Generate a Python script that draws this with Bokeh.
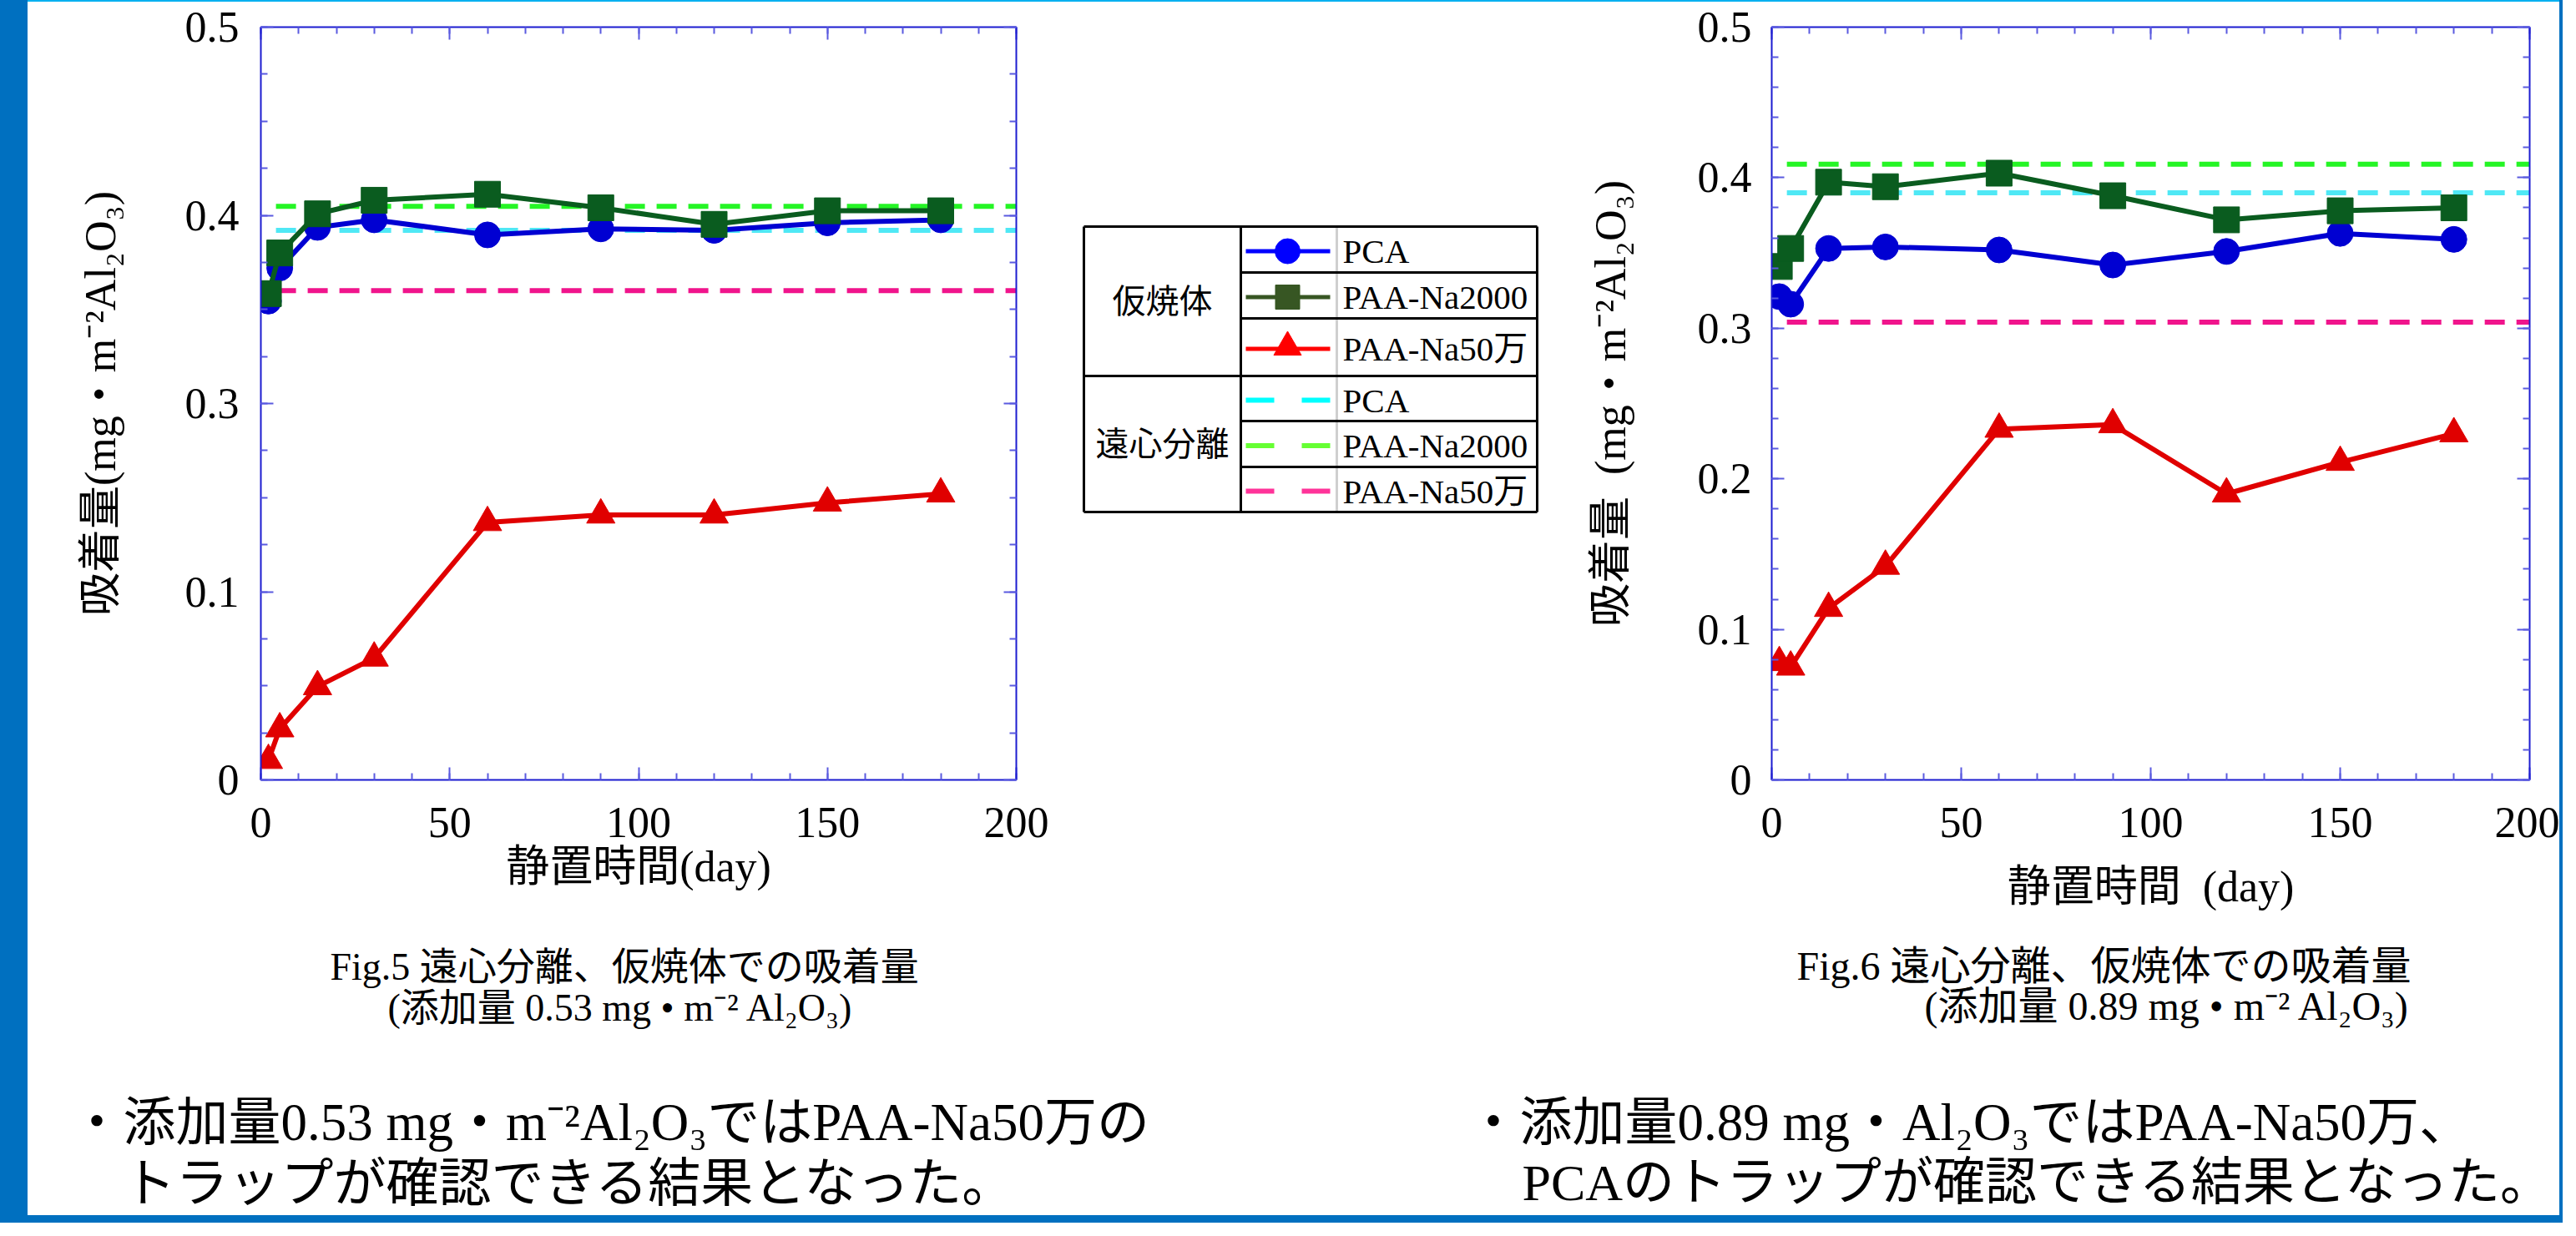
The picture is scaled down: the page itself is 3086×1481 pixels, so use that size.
from bokeh.plotting import figure
from bokeh.models import Range1d, LinearAxis, SingleIntervalTicker, Label, Div
from bokeh.layouts import row, column
from bokeh.embed import file_html
from bokeh.resources import INLINE

# ---------------- data ----------------
DAYS = [2, 5, 15, 30, 60, 90, 120, 150, 180]
CF_DAYS = [4, 200]          # extent of the centrifuge reference lines

# Fig.5 (0.53 mg/m2)  -- y values on the chart's linear 0-0.5 scale
F5_PCA = [0.318, 0.340, 0.367, 0.372, 0.362, 0.366, 0.365, 0.370, 0.372]
F5_PAA2000 = [0.323, 0.350, 0.376, 0.385, 0.389, 0.380, 0.369, 0.378, 0.378]
F5_PAA50 = [0.013, 0.034, 0.062, 0.081, 0.171, 0.176, 0.176, 0.184, 0.190]
F5_CF = [0.365, 0.381, 0.325]   # PCA, PAA-Na2000, PAA-Na50万 (遠心分離)
F5_YTICK_LABELS = {0: "0", 0.125: "0.1", 0.25: "0.3", 0.375: "0.4", 0.5: "0.5"}

# Fig.6 (0.89 mg/m2)
F6_PCA = [0.321, 0.316, 0.353, 0.354, 0.352, 0.342, 0.351, 0.363, 0.359]
F6_PAA2000 = [0.341, 0.353, 0.397, 0.394, 0.403, 0.388, 0.372, 0.378, 0.380]
F6_PAA50 = [0.078, 0.075, 0.114, 0.142, 0.233, 0.236, 0.190, 0.211, 0.230]
F6_CF = [0.390, 0.409, 0.304]

SERIES_NAMES = ["PCA", "PAA-Na2000", "PAA-Na50万"]
GROUP_NAMES = ["仮焼体", "遠心分離"]

Y5_LABEL = "吸着量(mg・m⁻²Al₂O₃)"
Y6_LABEL = "吸着量\u2002(mg・m⁻²Al₂O₃)"
X5_LABEL = "静置時間(day)"
X6_LABEL = "静置時間\u2002(day)"

C5_L1 = "Fig.5 遠心分離、仮焼体での吸着量"
C5_L2 = "(添加量 0.53 mg • m⁻² Al₂O₃)"
C6_L1 = "Fig.6 遠心分離、仮焼体での吸着量"
C6_L2 = "(添加量 0.89 mg • m⁻² Al₂O₃)"
B5_L1 = "・添加量0.53 mg・m⁻²Al₂O₃ではPAA-Na50万の"
B5_L2 = "トラップが確認できる結果となった。"
B6_L1 = "・添加量0.89 mg・Al₂O₃ではPAA-Na50万、"
B6_L2 = "PCAのトラップが確認できる結果となった。"

# ---------------- styles ----------------
FONT = "'Liberation Serif', 'Noto Sans CJK JP', serif"
AXIS_BLUE = "#1c1cd0"
TICK_BLUE = "#5a5ae0"
C_PCA, C_P2000, C_P50 = "#0000d2", "#0a5c1f", "#e00000"
C_CF = ["#4fe8f5", "#25f525", "#f0148c"]
L_PCA, L_P2000, L_P50 = "#0000ff", "#375623", "#ff0000"
L_CF = ["#00ffff", "#66ff33", "#ff3399"]
BAND_BLUE = "#0070c0"
STRIPE_CYAN = "#00b0f0"

TOP_H = 1110
B_TOP = 30
B_BOTTOM = 178


def style_axis(ax, labels=True, standoff=20):
    ax.axis_line_color = AXIS_BLUE
    ax.axis_line_width = 2
    ax.major_tick_line_color = TICK_BLUE
    ax.minor_tick_line_color = TICK_BLUE
    ax.major_tick_line_width = 2
    ax.minor_tick_line_width = 2
    ax.major_tick_in = 15
    ax.major_tick_out = 0
    ax.minor_tick_in = 8
    ax.minor_tick_out = 0
    if labels:
        ax.major_label_text_font = "Liberation Serif"
        ax.major_label_text_font_size = "52px"
        ax.major_label_text_color = "black"
        ax.major_label_standoff = standoff
    else:
        ax.major_label_text_font_size = "0px"
        ax.major_label_text_alpha = 0
        ax.major_label_standoff = 0


def make_chart(width, bl, br, y_interval, y_minor, y_overrides,
               xlabel, ylabel, x_std, y_lab_std, y_tick_std,
               pca, p2000, p50, cf):
    p = figure(width=width, height=TOP_H, x_range=Range1d(0, 200),
               y_range=Range1d(0, 0.5), output_backend="svg",
               toolbar_location=None, min_border_left=bl, min_border_right=br,
               min_border_top=B_TOP, min_border_bottom=B_BOTTOM)
    p.grid.visible = False
    p.outline_line_color = None
    p.background_fill_color = "white"
    p.border_fill_color = "white"

    p.xaxis.ticker = SingleIntervalTicker(interval=50, num_minor_ticks=5)
    p.yaxis.ticker = SingleIntervalTicker(interval=y_interval, num_minor_ticks=y_minor)
    xa = p.xaxis[0]
    ya = p.yaxis[0]
    style_axis(xa, True, 33)
    style_axis(ya, True, y_tick_std)
    if y_overrides:
        ya.major_label_overrides = y_overrides
    xa.axis_label = xlabel
    ya.axis_label = ylabel
    for ax, std in ((xa, x_std), (ya, y_lab_std)):
        ax.axis_label_text_font = FONT
        ax.axis_label_text_font_size = "52px"
        ax.axis_label_text_font_style = "normal"
        ax.axis_label_text_color = "black"
        ax.axis_label_standoff = std

    top = LinearAxis(ticker=SingleIntervalTicker(interval=50, num_minor_ticks=5))
    right = LinearAxis(ticker=SingleIntervalTicker(interval=y_interval, num_minor_ticks=y_minor))
    style_axis(top, False)
    style_axis(right, False)
    p.add_layout(top, "above")
    p.add_layout(right, "right")

    # centrifuge reference lines (dashed)
    for val, col in zip(cf, C_CF):
        p.line(CF_DAYS, [val, val], line_color=col, line_width=6,
               line_dash="24 14")

    # calcined series
    p.line(DAYS, pca, line_color=C_PCA, line_width=6)
    p.scatter(DAYS, pca, marker="circle", size=31, color=C_PCA)
    p.line(DAYS, p2000, line_color=C_P2000, line_width=6)
    p.scatter(DAYS, p2000, marker="square", size=31, color=C_P2000)
    p.line(DAYS, p50, line_color=C_P50, line_width=6)
    p.scatter(DAYS, p50, marker="triangle", size=34, color=C_P50)
    return p


# page-pixel layout: left band 33, column 3033, right line 4  (total 3070)
p5 = make_chart(1239, 279, 55, 0.125, 4, F5_YTICK_LABELS,
                X5_LABEL, Y5_LABEL, 4, 70, 26, F5_PCA, F5_PAA2000, F5_PAA50, F5_CF)
p6 = make_chart(1174, 230, 36, 0.1, 5, None,
                X6_LABEL, Y6_LABEL, 28, 73, 24, F6_PCA, F6_PAA2000, F6_PAA50, F6_CF)

# ---------------- legend table (middle figure, page coordinates) ----------------
FR_TOP = 10 + B_TOP
FR_BOT = 10 + TOP_H - B_BOTTOM
pm = figure(width=620, height=TOP_H, x_range=Range1d(1280, 1900),
            y_range=Range1d(FR_BOT, FR_TOP), output_backend="svg",
            toolbar_location=None, x_axis_location=None, y_axis_location=None,
            min_border_left=0, min_border_right=0,
            min_border_top=B_TOP, min_border_bottom=B_BOTTOM)
pm.grid.visible = False
pm.outline_line_color = None

BX0, BX1, BXC, BXS = 1306, 1849, 1494, 1609
ROWS = [279, 334, 389, 458, 512, 567, 621]
hx0 = [BX0, BXC, BXC, BX0, BXC, BXC, BX0, BX0, BXC, BX1]
hy0 = [ROWS[0], ROWS[1], ROWS[2], ROWS[3], ROWS[4], ROWS[5], ROWS[6], ROWS[0], ROWS[0], ROWS[0]]
hx1 = [BX1, BX1, BX1, BX1, BX1, BX1, BX1, BX0, BXC, BX1]
hy1 = [ROWS[0], ROWS[1], ROWS[2], ROWS[3], ROWS[4], ROWS[5], ROWS[6], ROWS[6], ROWS[6], ROWS[6]]
pm.segment(x0=[BXS], y0=[ROWS[0]], x1=[BXS], y1=[ROWS[6]], line_color="#cfcfcf", line_width=3)
pm.segment(x0=hx0, y0=hy0, x1=hx1, y1=hy1, line_color="black", line_width=3)

centers = [(ROWS[i] + ROWS[i + 1]) / 2 + 2 for i in range(6)]
SX0, SX1, SXM = BXC + 6, BXS - 8, BXC + 56
solid_cols = [L_PCA, L_P2000, L_P50]
markers = [("circle", 30), ("square", 29), ("triangle", 33)]
for i in range(3):
    cy = centers[i]
    pm.line([SX0, SX1], [cy, cy], line_color=solid_cols[i], line_width=5)
    pm.scatter([SXM], [cy - (2 if i == 2 else 0)], marker=markers[i][0],
               size=markers[i][1], color=solid_cols[i])
for i in range(3):
    cy = centers[3 + i]
    pm.line([SX0, SX1], [cy, cy], line_color=L_CF[i], line_width=6,
            line_dash="34 33")
for i, name in enumerate(SERIES_NAMES * 2):
    pm.add_layout(Label(x=BXS + 7, y=centers[i], text=name, text_font=FONT,
                        text_font_size="41px", text_baseline="middle",
                        text_align="left", text_color="black"))
for g, name in enumerate(GROUP_NAMES):
    cy = (ROWS[3 * g] + ROWS[3 * g + 3]) / 2
    pm.add_layout(Label(x=(BX0 + BXC) / 2, y=cy, text=name, text_font=FONT,
                        text_font_size="40px", text_baseline="middle",
                        text_align="center", text_color="black"))

# ---------------- captions and bullets (bottom figure, page coordinates) ----------------
PB_TOP = 10 + TOP_H
PB_H = 1464 - PB_TOP
pb = figure(width=3033, height=PB_H, x_range=Range1d(41, 3074),
            y_range=Range1d(1464, PB_TOP), output_backend="svg",
            toolbar_location=None, x_axis_location=None, y_axis_location=None,
            min_border=0)
pb.grid.visible = False
pb.outline_line_color = None

texts = [
    (C5_L1, 403, 1166, "46px"), (C5_L2, 472, 1215, "46px"),
    (C6_L1, 2160, 1165, "48px"), (C6_L2, 2313, 1213, "48px"),
    (B5_L1, 92, 1352, "63px"), (B5_L2, 155, 1425, "63px"),
    (B6_L1, 1765, 1352, "63px"), (B6_L2, 1831, 1424, "62px"),
]
for t, x, y, fs in texts:
    pb.add_layout(Label(x=x, y=y, text=t, text_font=FONT, text_font_size=fs,
                        text_baseline="alphabetic", text_align="left",
                        text_color="black"))

# ---------------- page decoration ----------------
def band(w, h, color):
    return Div(width=w, height=h, margin=(0, 0, 0, 0),
               styles={"background-color": color})

layout = row(
    band(33, 1465, BAND_BLUE),
    column(
        band(3033, 2, STRIPE_CYAN),
        row(p5, pm, p6, spacing=0),
        pb,
        band(3033, 9, BAND_BLUE),
        spacing=0,
    ),
    band(4, 1465, BAND_BLUE),
    spacing=0,
)

open("out.html", "w").write(file_html(layout, INLINE))
